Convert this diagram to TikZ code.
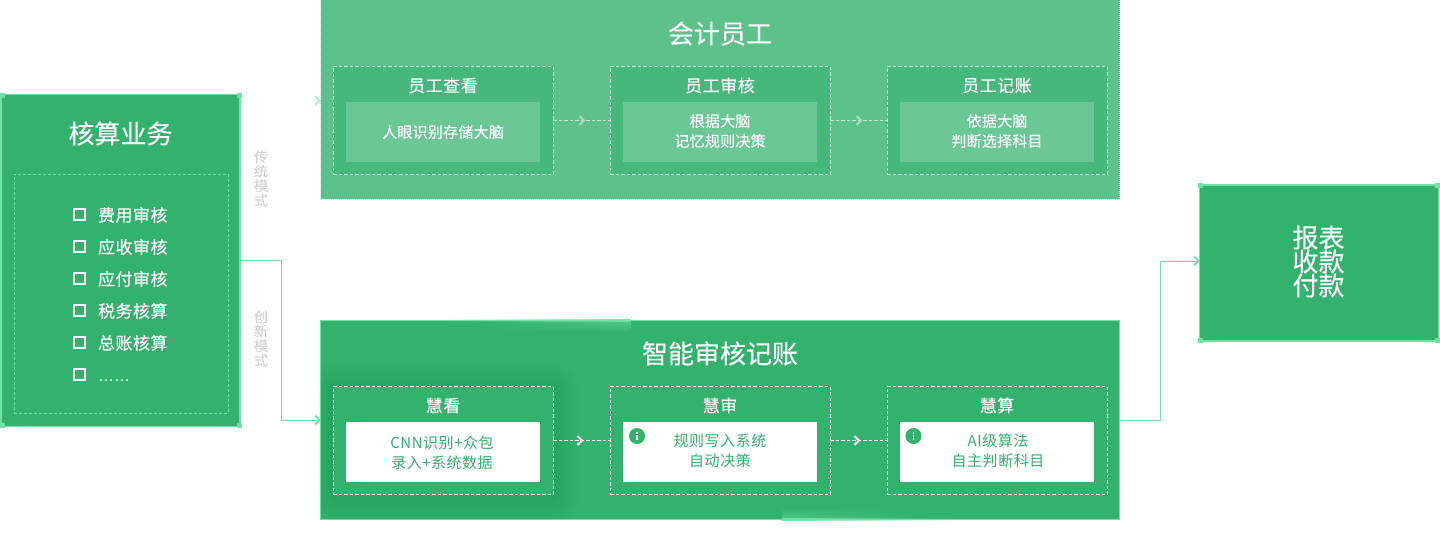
\documentclass[tikz,border=0pt]{standalone}
\usepackage{fontspec}
\setmainfont{Noto Sans CJK SC}[FakeBold=0.25]
\newfontfamily\latinf{Liberation Sans}
\usetikzlibrary{arrows.meta,calc,fadings}
\definecolor{gmain}{HTML}{33B26D}
\definecolor{gedge}{HTML}{6EE3A3}
\definecolor{gtop}{HTML}{5CC18B}
\definecolor{gtopin}{HTML}{46B87B}
\definecolor{gtoplt}{HTML}{6BC896}
\definecolor{gdash}{HTML}{C6EBD6}
\definecolor{gchev}{HTML}{A6E0C0}
\definecolor{glbl}{HTML}{D4D4D4}
\newcommand{\sz}[2]{\fontsize{#1}{#2}\selectfont}
\newfontfamily\spfont[LetterSpace=1.6,FakeBold=0.2]{Noto Sans CJK SC}
\newfontfamily\spgreen[LetterSpace=3.5]{Noto Sans CJK SC}
\newfontfamily\sphead[LetterSpace=3,FakeBold=0.25]{Noto Sans CJK SC}
\tikzfading[name=fromleft,left color=transparent!100,right color=transparent!0]
\tikzfading[name=toright,left color=transparent!0,right color=transparent!100]
\tikzset{
  x=1pt,y=-1pt,
  every node/.style={inner sep=0pt,outer sep=0pt},
  sqbox/.style={rectangle,draw=gedge,line width=1.2pt,fill=gmain,minimum width=#1},
  boxh/.style={minimum height=#1},
  corner/.style={rectangle,fill=gedge,minimum width=5pt,minimum height=5pt},
  title/.style={text=white,font=\sz{26}{30}},
  head/.style={text=white,font=\sphead\sz{17}{20}},
  itemt/.style={text=white,font=\sphead\sz{17}{20},anchor=west},
  bodyw/.style={text=white,font=\spfont\sz{15}{20},align=center},
  bodyg/.style={text=gmain,font=\spgreen\sz{15}{20},align=center},
  topcell/.style={rectangle,draw=gdash,fill=gtopin,line width=.9pt,dash pattern=on 3.5pt off 2pt,minimum width=220pt,minimum height=108pt},
  topinner/.style={rectangle,fill=gtoplt,minimum width=194pt,minimum height=60pt},
  botcell/.style={rectangle,draw=white,fill=gmain,line width=.9pt,dash pattern=on 3.5pt off 2pt,minimum width=220pt,minimum height=108pt},
  botinner/.style={rectangle,fill=white,minimum width=194pt,minimum height=60pt},
  chk/.style={rectangle,draw=white,line width=2pt,minimum width=11pt,minimum height=11pt},
  vlabel/.style={text=glbl,font=\sz{14}{14.5},align=center},
  link/.style={draw=gedge,line width=1pt},
  dlinkt/.style={draw=gdash,line width=.9pt,dash pattern=on 3.5pt off 2pt},
  dlinkb/.style={draw=white,line width=.9pt,dash pattern=on 3.5pt off 2pt},
  chev/.style={line width=2pt,line cap=butt,line join=miter},
}
\newcommand{\chevron}[3]{\draw[chev,#3] (#1-3.5,#2-4.5) -- (#1+1,#2) -- (#1-3.5,#2+4.5);}
\newcommand{\infoicon}[2]{%
  \fill[gmain] (#1,#2) circle (8pt);
  \fill[white] (#1-.9,#2-4.2) rectangle (#1+.9,#2-2.4);
  \fill[white] (#1-.9,#2-1) rectangle (#1+.9,#2+4.2);}
\begin{document}
\begin{tikzpicture}
\useasboundingbox (0,0) rectangle (1440,535);

% left block
\node[sqbox=239pt,boxh=332pt] (hs) at (120.5,260.5) {};
\node[rectangle,draw=gedge,line width=.8pt,dash pattern=on 3pt off 2pt,minimum width=214pt,minimum height=239pt] (hslist) at (121,293.5) {};
\foreach \n/\cx/\cy in {c1/2/95,c2/239/95,c3/2/425,c4/239/425}
  \node[corner] (\n) at (\cx,\cy) {};
\node[title] (hst) at (120.5,133.5) {核算业务};
\foreach \n/\yy/\tt in {a/215/费用审核,b/247/应收审核,c/279/应付审核,d/311/税务核算,e/343/总账核算}{
  \node[chk] (k\n) at (79.5,\yy-.5) {};
  \node[itemt] (t\n) at (98,\yy) {\tt};
}
\node[chk] (kf) at (79.5,374.5) {};
\node[itemt,anchor=base west,font=\latinf\sz{16}{20}] (tf) at (98,381) {……};

% vertical labels
\node[vlabel] (v1) at (261,178.5) {传\\统\\模\\式};
\node[vlabel] (v2) at (261,338.5) {创\\新\\模\\式};

% top panel
\node[rectangle,fill=gtop,draw=gdash,line width=1pt,dash pattern=on 1pt off 1pt,minimum width=799pt,minimum height=199pt] (kj) at (720,99.5) {};
\node[title] (kjt) at (720,33.5) {会计员工};
\node[topcell] (t1) at (443,120.5) {};
\node[topcell] (t2) at (720,120.5) {};
\node[topcell] (t3) at (997,120.5) {};
\node[topinner] (ti1) at (443,132) {};
\node[topinner] (ti2) at (720,132) {};
\node[topinner] (ti3) at (997,132) {};
\node[head] (th1) at (443,85.5) {员工查看};
\node[head] (th2) at (720,85.5) {员工审核};
\node[head] (th3) at (997,85.5) {员工记账};
\node[bodyw] (tb1) at (443,132) {人眼识别存储大脑};
\node[bodyw] (tb2) at (720,131) {根据大脑\\记忆规则决策};
\node[bodyw] (tb3) at (997,131) {依据大脑\\判断选择科目};
\draw[dlinkt] (t1.east) -- (t2.west);
\draw[dlinkt] (t2.east) -- (t3.west);
\chevron{583}{120.5}{draw=gchev}
\chevron{860}{120.5}{draw=gchev}
\chevron{318.5}{100.5}{draw=gedge!60!white}

% bottom panel
\node[sqbox=799pt,boxh=199pt] (zn) at (720,420) {};
\begin{scope}
\clip (321,321) rectangle (1119,519);
\foreach \d in {26,24,...,2}
  \fill[black,opacity=.005,rounded corners=\d pt] (333-\d,386-\d+3) rectangle (553+\d,495+\d+3);
\end{scope}
% highlights on the panel edge
\shade[top color=gedge!45!gmain,bottom color=gmain,path fading=fromleft] (470,322) rectangle (631,332);
\fill[gedge,path fading=fromleft] (440,319) rectangle (631,322);
\shade[bottom color=gedge!45!gmain,top color=gmain,path fading=toright] (782,508) rectangle (920,518);
\fill[gedge,path fading=toright] (782,518) rectangle (960,521);
\node[title] (znt) at (720,353.5) {智能审核记账};
\node[botcell] (b1) at (443,440.5) {};
\node[botcell] (b2) at (720,440.5) {};
\node[botcell] (b3) at (997,440.5) {};
\node[botinner] (bi1) at (443,452) {};
\node[botinner] (bi2) at (720,452) {};
\node[botinner] (bi3) at (997,452) {};
\node[head] (bh1) at (443,405.5) {慧看};
\node[head] (bh2) at (720,405.5) {慧审};
\node[head] (bh3) at (997,405.5) {慧算};
\node[bodyg] (bb1) at (442,453) {CNN识别+众包\\录入+系统数据};
\node[bodyg] (bb2) at (720,451) {规则写入系统\\自动决策};
\node[bodyg] (bb3) at (998,451) {AI级算法\\自主判断科目};
\infoicon{637}{436}
\infoicon{913.5}{436}
\draw[dlinkb] (b1.east) -- (b2.west);
\draw[dlinkb] (b2.east) -- (b3.west);
\chevron{581}{440.5}{draw=white}
\chevron{858}{440.5}{draw=white}

% right block
\node[sqbox=239pt,boxh=156pt] (rb) at (1319,263) {};
\foreach \n/\cx/\cy in {d1/1200/185.5,d2/1437/185.5,d3/1200/340.5,d4/1437/340.5}
  \node[corner] (\n) at (\cx,\cy) {};
\node[text=white,font=\sz{26}{24},align=center] (rbt) at (1318.5,261.5) {报表\\收款\\付款};

% connectors
\coordinate (inz) at (320,420);
\coordinate (inr) at (1199,261);
\draw[link] (hs.east) -- (281,260.5) |- (inz);
\draw[link] (zn.east) -- (1160,420) |- (inr);
\chevron{318.5}{420}{draw=gedge}
\chevron{1197.5}{261}{draw=gedge}
\end{tikzpicture}
\end{document}
